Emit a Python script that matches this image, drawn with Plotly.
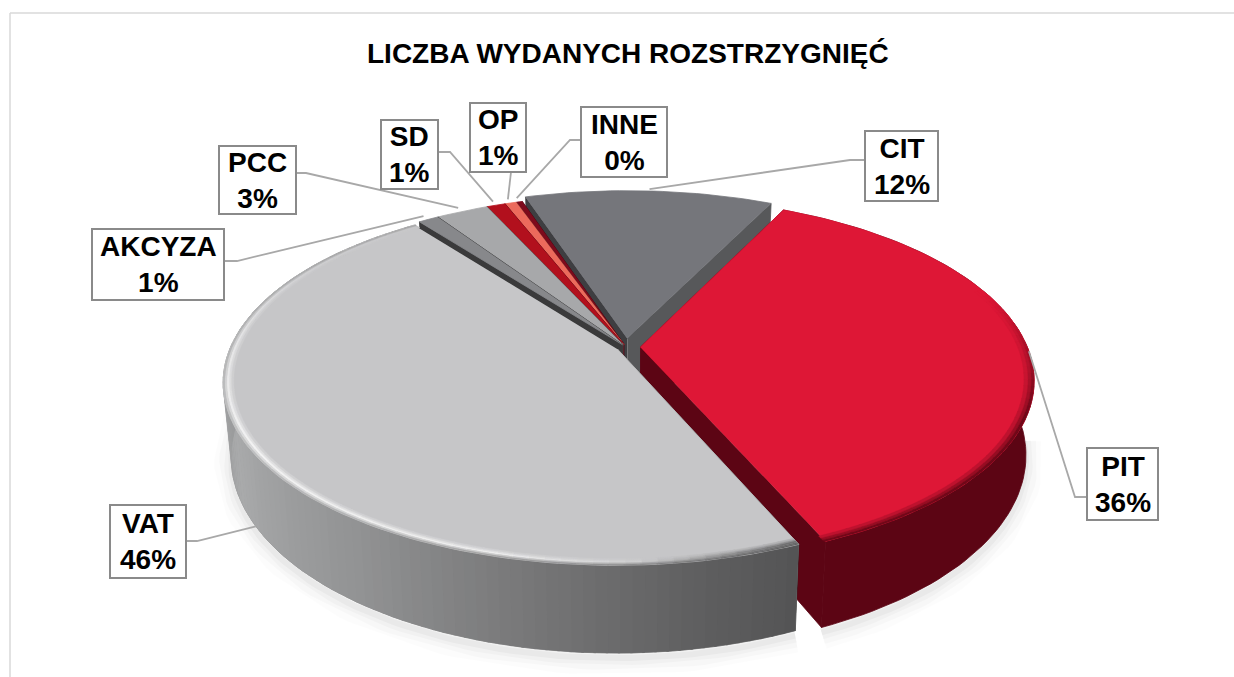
import math
import plotly.graph_objects as go

# ---- data (clockwise from the top-left of CIT)
categories = ["CIT", "PIT", "VAT", "AKCYZA", "PCC", "SD", "OP", "INNE"]
values = [12.2, 36.5, 46.3, 1.0, 2.55, 0.9, 0.55, 0.3]
chart_title = "LICZBA WYDANYCH ROZSTRZYGNIĘĆ"

# ---- styles
top_colors = {"CIT": "#75767b", "PIT": "#de1736", "VAT": "#c6c6c8", "AKCYZA": "#87888b",
              "PCC": "#a7a8aa", "SD": "#b2101d", "OP": "#ec6a5c", "INNE": "#7d0a1c"}
wall_start = {"CIT": "#3e3e41", "PIT": "#5c0514", "VAT": "#333333", "AKCYZA": "#3a3a3b",
              "PCC": "#555", "SD": "#5c0514", "OP": "#7d3a30", "INNE": "#4a0510"}
wall_end = {"CIT": "#57585a", "PIT": "#5c0514", "VAT": "#333333", "AKCYZA": "#3a3a3b",
            "PCC": "#555", "SD": "#5c0514", "OP": "#7d3a30", "INNE": "#4a0510"}
explode = {"CIT": 0.05, "PIT": 0.037, "VAT": 0.025, "AKCYZA": 0.015, "PCC": 0.015,
           "SD": 0.015, "OP": 0.015, "INNE": 0.015}
draw_order = ["CIT", "INNE", "OP", "SD", "PCC", "AKCYZA", "PIT", "VAT"]
ROT = -18.0
CX, CY, RX, RY, K, DEPTH = 626.0, 347.0, 387.0, 176.7, 0.178, 72.0
TAPER = 0.02
FONT = "Liberation Sans"
LEADER = "#a8a8a8"
BOX = "#8a8a8a"

# label box: x0, y0, x1, y1, leader start, leader elbow, attach radius, attach depth
label_boxes = {
    "AKCYZA": (92, 229, 224, 300, (224, 261), (237, 261), 1.03, 0),
    "PCC": (219, 146, 296, 214, (296, 173), (306, 173), 1.03, 0),
    "SD": (381, 120, 438, 189, (438, 152), (450, 152), 1.03, 0),
    "OP": (470, 103, 526, 172, (511, 172), (511, 172), 1.03, 0),
    "INNE": (581, 107, 667, 177, (581, 140), (570, 140), 1.03, 0),
    "CIT": (865, 131, 938, 201, (865, 160), (850, 160), 1.015, 0),
    "PIT": (1087, 448, 1158, 520, (1087, 497), (1075, 497), 1.0, 0),
    "VAT": (110, 505, 186, 578, (186, 541), (197, 541), 1.0, 1),
}

# ---- angles from the values
total = sum(values)
spans = {}
a = ROT
for c, v in zip(categories, values):
    spans[c] = (a, a + v / total * 360.0)
    a += v / total * 360.0


def pt(c, ang, r=1.0, z=0.0):
    t = math.radians(ang)
    m = math.radians(sum(spans[c]) / 2)
    e = explode[c]
    u = r * math.sin(t) + e * math.sin(m)
    w = -r * math.cos(t) - e * math.cos(m)
    s = 1 / (1 - K * w)
    return CX + RX * u * s * (1 - TAPER * z), CY + RY * w * s + DEPTH * z * s


def hex2(h):
    h = h.lstrip("#")
    if len(h) == 3:
        h = "".join(ch * 2 for ch in h)
    return [int(h[i:i + 2], 16) for i in (0, 2, 4)]


def mix(a_, b_, t):
    ca, cb = hex2(a_), hex2(b_)
    return "#%02x%02x%02x" % tuple(round(x + (y - x) * t) for x, y in zip(ca, cb))


def ramp(stops, x):
    if x <= stops[0][0]:
        return stops[0][1]
    for (x0, c0), (x1, c1) in zip(stops, stops[1:]):
        if x <= x1:
            return mix(c0, c1, (x - x0) / (x1 - x0))
    return stops[-1][1]


vat_wall = [(150, "#4e4e4f"), (170, "#5f5f60"), (190, "#767677"), (215, "#929394"),
            (245, "#a9aaab"), (265, "#9b9c9d"), (330, "#8a8a8a")]
vat_rim = [(150, "#555556"), (165, "#8e8e8f"), (178, "#d0d0d1"), (195, "#eeeeee"),
           (240, "#f2f2f2"), (270, "#e6e6e7"), (300, "#d0d0d2"), (330, "#c6c6c8")]

fig = go.Figure()


def poly(xy, color, width=0.8):
    fig.add_trace(go.Scatter(x=[p[0] for p in xy], y=[p[1] for p in xy], mode="lines",
                             fill="toself", fillcolor=color,
                             line=dict(color=color, width=width), hoverinfo="skip",
                             showlegend=False))


def arc(c, a0, a1, r=1.0, z=0.0, n=None):
    n = n or max(2, int(abs(a1 - a0) / 1.5))
    return [pt(c, a0 + (a1 - a0) * i / n, r, z) for i in range(n + 1)]


def seg_range(a0, a1, step=3.0):
    n = max(1, int((a1 - a0) / step))
    d = (a1 - a0) / n
    return [(a0 + i * d, a0 + (i + 1) * d) for i in range(n)]


# soft drop shadow under the front of the pie
for c in ["VAT", "PIT"]:
    a0, a1 = spans[c]
    a0v, a1v = max(a0, 95), min(a1, 275)
    line = arc(c, a0v, a1v, 1.0, 1.0)
    for w, al in [(34, .012), (24, .018), (14, .025), (6, .03)]:
        fig.add_trace(go.Scatter(x=[p[0] for p in line], y=[p[1] + 5 for p in line], mode="lines",
                                 line=dict(color=f"rgba(0,0,0,{al})", width=w), hoverinfo="skip",
                                 showlegend=False))

# slices, back to front
for c in draw_order:
    a0, a1 = spans[c]
    apex, apex_b = pt(c, a0, 0), pt(c, a0, 0, 1)
    # radial walls
    poly([apex, pt(c, a0), pt(c, a0, 1, 1), apex_b], wall_start[c])
    poly([apex, pt(c, a1), pt(c, a1, 1, 1), apex_b], wall_end[c])
    # outer wall
    if c == "PIT":
        poly(arc(c, a0, a1) + arc(c, a1, a0, 1, 1), "#5c0514")
    if c == "VAT":
        poly(arc(c, a0, a1) + arc(c, a1, a0, 1, 1), "#8a8a8a")
        for s0, s1 in seg_range(a0, a1, 1.5):
            col = ramp(vat_wall, (s0 + s1) / 2)
            poly([pt(c, s0), pt(c, s1 + .3), pt(c, s1 + .3, 1, 1), pt(c, s0, 1, 1)], col, 0.4)
    # top
    poly([apex] + arc(c, a0, a1), top_colors[c])
    # bevel
    if c == "VAT":
        top = top_colors[c]
        for s0, s1 in seg_range(a0, a1, 2.0):
            h = ramp(vat_rim, (s0 + s1) / 2)
            wall = ramp(vat_wall, (s0 + s1) / 2)
            bands = [(.974, .98, mix(top, h, .25)), (.98, .985, mix(top, h, .6)),
                     (.985, .991, h), (.991, .996, mix(h, wall, .3)), (.996, 1.0, mix(h, wall, .65))]
            for r0, r1, col in bands:
                poly([pt(c, s0, r0), pt(c, s1 + .2, r0), pt(c, s1 + .2, r1), pt(c, s0, r1)], col, .3)
    if c == "PIT":
        top = top_colors[c]
        for s0, s1 in seg_range(max(a0, 70), a1, 2.0):
            f = min(1.0, (s0 - 70) / 40)
            for r0, r1, t in [(.975, .985, .25), (.985, .993, .55), (.993, 1.0, .85)]:
                col = mix(top, "#5c0514", t * f)
                poly([pt(c, s0, r0), pt(c, s1 + .2, r0), pt(c, s1 + .2, r1), pt(c, s0, r1)], col, .3)

# leaders and labels
annotations = [dict(x=628, y=53, xref="x", yref="y", text=f"<b>{chart_title}</b>", showarrow=False,
                    font=dict(family=FONT, size=28, color="#000000"))]
shapes = [
    dict(type="line", x0=10, x1=1234, y0=13, y1=13, xref="x", yref="y", line=dict(color="#d9d9d9", width=1.5)),
    dict(type="line", x0=10, x1=10, y0=13, y1=677, xref="x", yref="y", line=dict(color="#d9d9d9", width=1.5)),
]
for c, v in zip(categories, values):
    x0, y0, x1, y1, start, elbow, rad, dep = label_boxes[c]
    end = pt(c, sum(spans[c]) / 2, rad, dep)
    pts = [start, elbow, end]
    fig.add_trace(go.Scatter(x=[p[0] for p in pts], y=[p[1] for p in pts], mode="lines",
                             line=dict(color=LEADER, width=1.8), hoverinfo="skip", showlegend=False))
    shapes.append(dict(type="rect", x0=x0, x1=x1, y0=y0, y1=y1, xref="x", yref="y", layer="above",
                       fillcolor="white", line=dict(color=BOX, width=2)))
    pct = round(v / total * 100)
    annotations.append(dict(x=(x0 + x1) / 2, y=(y0 + y1) / 2, xref="x", yref="y", showarrow=False,
                            text=f"<b>{c}<br>{pct}%</b>", align="center",
                            font=dict(family=FONT, size=28, color="#000000")))

fig.update_layout(
    width=1234, height=677, margin=dict(l=0, r=0, t=0, b=0),
    paper_bgcolor="white", plot_bgcolor="white", showlegend=False,
    xaxis=dict(range=[0, 1234], visible=False, fixedrange=True),
    yaxis=dict(range=[677, 0], visible=False, fixedrange=True),
    annotations=annotations, shapes=shapes,
)
fig.write_html("out.html", post_script="document.body.style.margin='0';document.body.style.overflow='hidden';",
               config={"displayModeBar": False})
